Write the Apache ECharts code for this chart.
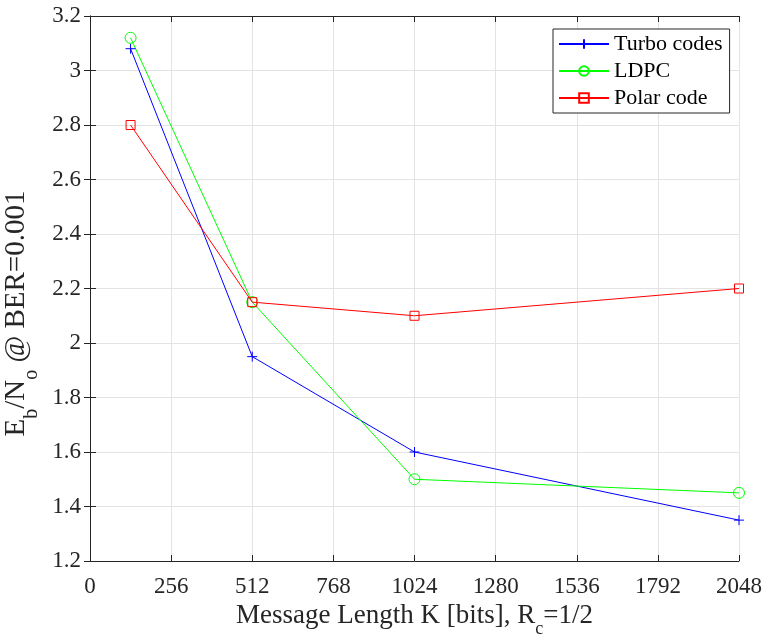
<!DOCTYPE html>
<html style="height: 100%">
<head>
    <meta charset="utf-8">
    <script src="https://cdn.jsdelivr.net/npm/echarts@6/dist/echarts.min.js"></script>
    <title>Eb/No vs message length</title>
</head>
<body style="height: 100%; margin: 0; background: #fff">
<div id="container" style="width: 765px; height: 635px"></div>
<script type="text/javascript">

    // message length K (bits)
    let msgLength = [128, 512, 1024, 2048];
    // Eb/No needed for BER = 0.001
    let turboVals = [3.08, 1.95, 1.6, 1.35];
    let ldpcVals = [3.12, 2.15, 1.5, 1.45];
    let polarVals = [2.8, 2.15, 2.1, 2.2];
    let seriesNames = ['Turbo codes', 'LDPC', 'Polar code'];

    function pairs(vals) {
        let out = [];
        for (let i = 0; i < msgLength.length; i++) {
            out.push([msgLength[i], vals[i]]);
        }
        return out;
    }

    const serif = 'Liberation Serif';
    const axisColor = '#262626';
    const gridColor = '#e3e3e3';

    // styles for subscripts in axis titles
    function nameRich(size) {
        let sub = Math.round(size * 0.68);
        return {
            n: {fontFamily: serif, fontSize: size, color: axisColor, lineHeight: size + 1, verticalAlign: 'top'},
            s: {fontFamily: serif, fontSize: sub, color: axisColor, lineHeight: sub, verticalAlign: 'top',
                padding: [Math.round(size * 0.64), 0, 0, 0]}
        };
    }

    function sideAxis(pos, min, max, interval) {
        return {
            type: 'value', position: pos, min: min, max: max, interval: interval,
            axisLine: {show: true, lineStyle: {color: axisColor, width: 1}},
            axisTick: {show: true, inside: true, length: 6, lineStyle: {color: axisColor}},
            axisLabel: {show: false},
            splitLine: {show: false}
        };
    }

    let dom = document.getElementById("container");
    let chart = echarts.init(dom, null, {renderer: 'canvas'});
    chart.setOption({
        backgroundColor: '#fff',
        animation: false,
        textStyle: {fontFamily: serif},
        grid: {left: 90, right: 26, top: 16, bottom: 74, containLabel: false, outerBoundsMode: 'none'},
        legend: {
            orient: 'vertical',
            left: 553, top: 29,
            data: seriesNames,
            itemWidth: 50, itemHeight: 12, itemGap: 5,
            padding: [4, 7, 4, 5],
            borderColor: axisColor, borderWidth: 1,
            backgroundColor: '#fff',
            inactiveColor: '#000',
            selectedMode: false,
            textStyle: {fontFamily: 'serif', fontSize: 22, color: '#000', lineHeight: 22}
        },
        xAxis: [{
            type: 'value', min: 0, max: 2048, interval: 256,
            name: '{n|Message Length K [bits], R}{s|c}{n|=1/2}',
            nameLocation: 'middle', nameGap: 34,
            nameTextStyle: {rich: nameRich(27)},
            axisLine: {show: true, onZero: false, lineStyle: {color: axisColor, width: 1}},
            axisTick: {show: true, inside: true, length: 6, lineStyle: {color: axisColor}},
            axisLabel: {
                fontFamily: serif, fontSize: 23, color: axisColor, margin: 14,
                formatter: function (v) { return String(v); }
            },
            splitLine: {show: true, lineStyle: {color: gridColor, width: 1}}
        }, sideAxis('top', 0, 2048, 256)],
        yAxis: [{
            type: 'value', min: 1.2, max: 3.2, interval: 0.2,
            name: '{n|E}{s|b}{n|/N}{s|o}{n| @ BER=0.001}',
            nameLocation: 'middle', nameGap: 45, nameRotate: 90,
            nameTextStyle: {rich: nameRich(29), padding: [0, 50, 0, 0]},
            axisLine: {show: true, onZero: false, lineStyle: {color: axisColor, width: 1}},
            axisTick: {show: true, inside: true, length: 6, lineStyle: {color: axisColor}},
            axisLabel: {
                fontFamily: serif, fontSize: 23, color: axisColor, margin: 9,
                formatter: function (v) { return String(Math.round(v * 10) / 10); }
            },
            splitLine: {show: true, lineStyle: {color: gridColor, width: 1}}
        }, sideAxis('right', 1.2, 3.2, 0.2)],
        series: [
            {
                name: seriesNames[0], type: 'line', data: pairs(turboVals),
                symbol: 'path://M5,0L5,10M0,5L10,5', symbolSize: 10,
                lineStyle: {color: '#0000ff', width: 1},
                itemStyle: {color: 'rgba(0,0,0,0)', borderColor: '#0000ff', borderWidth: 1}
            },
            {
                name: seriesNames[1], type: 'line', data: pairs(ldpcVals),
                symbol: 'circle', symbolSize: 11,
                lineStyle: {color: '#00ff00', width: 1},
                itemStyle: {color: 'rgba(0,0,0,0)', borderColor: '#00ff00', borderWidth: 1}
            },
            {
                name: seriesNames[2], type: 'line', data: pairs(polarVals),
                symbol: 'rect', symbolSize: 9,
                lineStyle: {color: '#ff0000', width: 1},
                itemStyle: {color: 'rgba(0,0,0,0)', borderColor: '#ff0000', borderWidth: 1}
            }
        ]
    });

</script>
</body>
</html>
